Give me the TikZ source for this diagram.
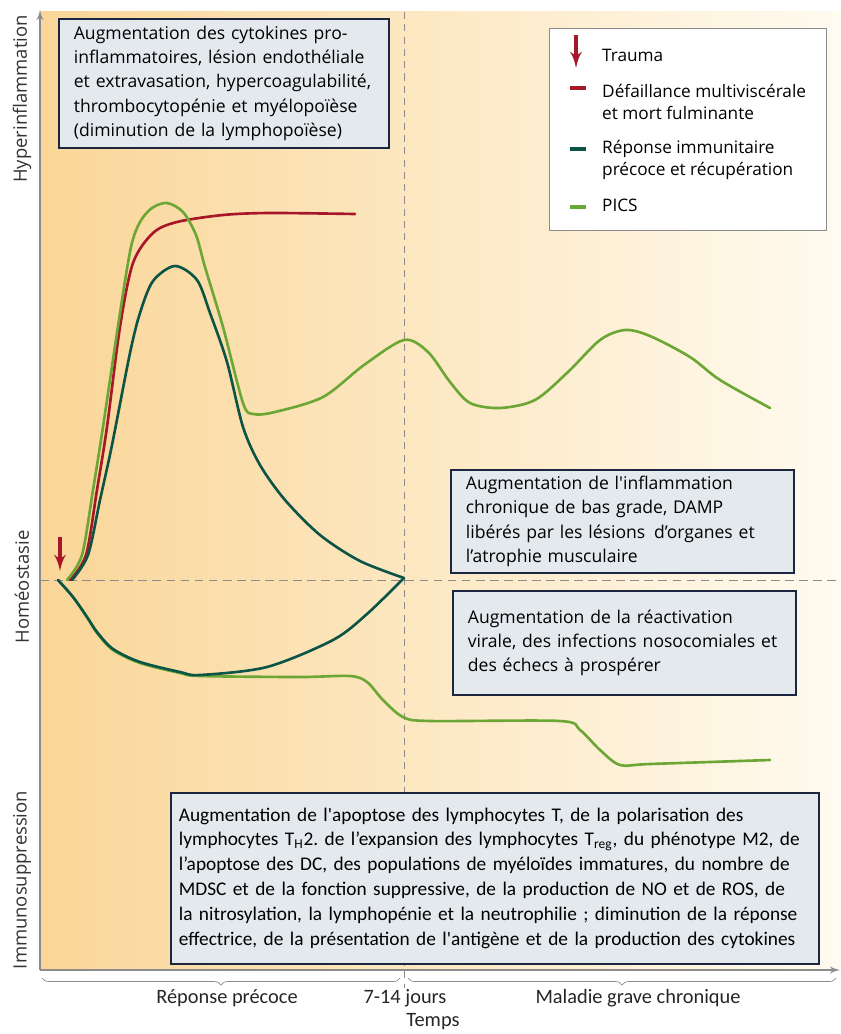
\documentclass[tikz,border=0pt]{standalone}
\usepackage{fontspec}
\setmainfont{Open Sans}
\newfontfamily\narrowfont{Carlito}
\usetikzlibrary{arrows}
\usetikzlibrary{decorations.pathreplacing}
\definecolor{bgwarm}{RGB}{250,214,152}
\definecolor{bgpale}{RGB}{255,251,240}
\definecolor{boxfill}{RGB}{228,233,238}
\definecolor{boxline}{RGB}{28,38,64}
\definecolor{fatalred}{RGB}{168,22,42}
\definecolor{recovgreen}{RGB}{12,84,70}
\definecolor{picsgreen}{RGB}{108,166,52}
\definecolor{guidegray}{RGB}{140,140,140}

\begin{document}
\begin{tikzpicture}[>=latex',x=0.02cm,y=-0.02cm,
    infobox/.style={draw=boxline, fill=boxfill, line width=1pt, anchor=north west, align=left,
      inner xsep=0.3cm, font=\fontsize{10}{13.8}\selectfont},
    curve/.style={line width=1.5pt, line cap=round},
    keytext/.style={anchor=west, align=left, font=\fontsize{9.8}{13}\selectfont},
    timelabel/.style={font=\narrowfont\fontsize{11.6}{13}\selectfont, text=black!85}]
      \useasboundingbox (0,0) rectangle (841,1034);

      % background and axes
      \shade [left color=bgwarm, right color=bgpale] (40,12) rectangle (841,970);
      \coordinate (origin) at (40,970);
      \coordinate (ytop) at (40,10);
      \coordinate (xend) at (840,970);
      \draw [->, guidegray, line width=1pt] (origin) -- (ytop);
      \draw [->, guidegray, line width=1pt] (origin) -- (xend);

      % guide lines
      \coordinate (homeo_left) at (40,580);
      \coordinate (homeo_right) at (841,580);
      \coordinate (day_top) at (404,12);
      \coordinate (day_bottom) at (404,988);
      \draw [guidegray, thin, dash pattern=on 5pt off 3pt] (homeo_left) -- (homeo_right);
      \draw [guidegray, thin, dash pattern=on 4pt off 3pt] (day_top) -- (day_bottom);

      % y labels
      \node [rotate=90, font=\fontsize{10.5}{12}\selectfont, text=black!80, name=lab_hyper] at (22,99) {Hyperinflammation};
      \node [rotate=90, font=\fontsize{10.5}{12}\selectfont, text=black!80, name=lab_homeo] at (22,587) {Homéostasie};
      \node [rotate=90, font=\fontsize{10.5}{12}\selectfont, text=black!80, name=lab_immuno] at (22,880) {Immunosuppression};

      % time braces and labels
      \coordinate (early_a) at (42,978);
      \coordinate (early_b) at (400,978);
      \coordinate (late_a) at (408,978);
      \coordinate (late_b) at (836,978);
      \draw [guidegray, thin, decorate, decoration={brace, mirror, amplitude=4pt}] (early_a) -- (early_b);
      \draw [guidegray, thin, decorate, decoration={brace, mirror, amplitude=4pt}] (late_a) -- (late_b);
      \node [timelabel, name=lab_early] at (227,998) {Réponse précoce};
      \node [timelabel, name=lab_days] at (405,998) {7-14 jours};
      \node [timelabel, name=lab_late] at (638,998) {Maladie grave chronique};
      \node [timelabel, name=lab_time] at (433,1022) {Temps};

      % curves
      \coordinate (trauma) at (58,580);
      \coordinate (onset) at (70,580);
      \coordinate (recovery) at (404,578);
      \draw [curve, fatalred] plot [smooth, tension=0.5] coordinates {(onset) (86,555) (97,490) (107,427) (120,327) (133,263) (153,233) (177,222) (223,215) (270,213) (355,214)};
      \draw [curve, picsgreen] plot [smooth, tension=0.5] coordinates {(67,580) (82,555) (93,490) (103,427) (120,313) (131,247) (140,222) (152,208) (167,203) (183,212) (196,235) (205,267) (223,327) (243,403) (253,414) (275,412) (323,397) (364,365) (404,340) (428,352) (450,382) (470,403) (500,408) (535,400) (568,372) (600,340) (625,330) (650,336) (690,357) (720,380) (770,408)};
      \draw [curve, recovgreen] plot [smooth, tension=0.5] coordinates {(72,580) (88,555) (100,500) (112,445) (130,353) (140,313) (153,281) (175,266) (197,280) (210,313) (227,362) (243,427) (260,465) (285,500) (320,535) (360,561) (recovery)};
      \draw [curve, picsgreen] plot [smooth, tension=0.5] coordinates {(trauma) (73,597) (87,617) (97,633) (113,650) (140,663) (180,673) (200,676) (300,677) (350,676) (367,682) (383,700) (403,717) (430,721) (560,721) (580,730) (600,750) (620,765) (650,764) (770,760)};
      \draw [curve, recovgreen] plot [smooth, tension=0.5] coordinates {(trauma) (73,597) (87,617) (97,632) (113,649) (140,662) (180,672) (200,675) (267,667) (333,640) (367,614) (recovery)};

      % trauma arrow
      \coordinate (hit_top) at (60,537);
      \coordinate (hit_tip) at (60,571);
      \draw [->, fatalred, line width=2.2pt] (hit_top) -- (hit_tip);

      % text boxes
      \node [infobox, text width=6.0cm, minimum height=2.58cm, name=box_hyper] at (58,18)
        {Augmentation des cytokines pro-\\inflammatoires, lésion endothéliale\\et extravasation, hypercoagulabilité,\\thrombocytopénie et myélopoïèse\\(diminution de la lymphopoïèse)};
      \node [infobox, text width=6.26cm, minimum height=2.06cm, name=box_chronic] at (450,469)
        {Augmentation de l\textquotesingle inflammation\\chronique de bas grade, DAMP\\libérés par les lésions\,\ d’organes et\\l’atrophie musculaire};
      \node [infobox, text width=6.26cm, minimum height=2.08cm, name=box_viral] at (452,590)
        {Augmentation de la réactivation\\virale, des infections nosocomiales et\\des échecs à prospérer};
      \node [infobox, inner xsep=0.16cm, text width=12.64cm, minimum height=3.42cm,
             font=\narrowfont\fontsize{11}{14.2}\selectfont, name=box_immuno] at (170,792)
        {Augmentation de l\textquotesingle apoptose des lymphocytes T, de la polarisation des\\
         lymphocytes T\textsubscript{H}2.\ de l’expansion des lymphocytes T\textsubscript{reg}, du phénotype M2, de\\
         l’apoptose des DC, des populations de myéloïdes immatures, du nombre de\\
         MDSC et de la fonction suppressive, de la production de NO et de ROS, de\\
         la nitrosylation, la lymphopénie et la neutrophilie ; diminution de la réponse\\
         effectrice, de la présentation de l\textquotesingle antigène et de la production des cytokines};

      % legend
      \node [draw=guidegray, fill=white, line width=0.8pt, anchor=north west, minimum width=5.54cm, minimum height=4.04cm, name=legend] at (549,28) {};
      \coordinate (key_arrow_top) at (576,35);
      \coordinate (key_arrow_tip) at (576,68);
      \draw [->, fatalred, line width=2.2pt] (key_arrow_top) -- (key_arrow_tip);
      \coordinate (key_red_a) at (570,88);
      \coordinate (key_red_b) at (586,88);
      \draw [fatalred, line width=2pt] (key_red_a) -- (key_red_b);
      \coordinate (key_dark_a) at (570,149);
      \coordinate (key_dark_b) at (586,149);
      \draw [recovgreen, line width=2pt] (key_dark_a) -- (key_dark_b);
      \coordinate (key_light_a) at (570,207);
      \coordinate (key_light_b) at (586,207);
      \draw [picsgreen, line width=2pt] (key_light_a) -- (key_light_b);
      \node [keytext, name=key_trauma] at (596,55) {Trauma};
      \node [keytext, name=key_fatal] at (596,102) {Défaillance multiviscérale\\et mort fulminante};
      \node [keytext, name=key_recov] at (596,160) {Réponse immunitaire\\précoce et récupération};
      \node [keytext, name=key_pics] at (596,205) {PICS};

    \end{tikzpicture}
\end{document}
